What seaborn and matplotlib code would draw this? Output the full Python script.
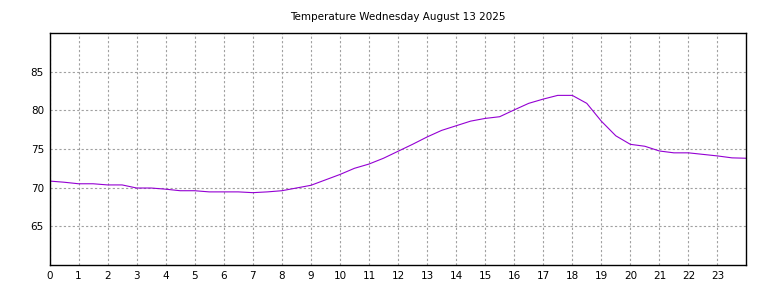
import numpy as np
import pandas as pd
import seaborn as sns
import matplotlib
matplotlib.use("Agg")
import matplotlib.pyplot as plt

# half-hourly readings
hours = [0, 0.5, 1, 1.5, 2, 2.5, 3, 3.5, 4, 4.5, 5, 5.5, 6, 6.5, 7, 7.5,
         8, 8.5, 9, 9.5, 10, 10.5, 11, 11.5, 12, 12.5, 13, 13.5, 14, 14.5,
         15, 15.5, 16, 16.5, 17, 17.5, 18, 18.5, 19, 19.5, 20, 20.5, 21,
         21.5, 22, 22.5, 23, 23.5, 24]
temps = [70.85, 70.7, 70.5, 70.5, 70.35, 70.35, 69.95, 69.95, 69.8, 69.6,
         69.6, 69.45, 69.45, 69.45, 69.35, 69.45, 69.6, 69.95, 70.3, 71.0,
         71.7, 72.5, 73.05, 73.8, 74.7, 75.6, 76.55, 77.4, 78.0, 78.6,
         78.95, 79.17, 80.05, 80.9, 81.45, 81.93, 81.93, 80.9, 78.6, 76.7,
         75.6, 75.35, 74.74, 74.5, 74.5, 74.3, 74.1, 73.85, 73.8]
xticks = list(range(24))
yticks = [65, 70, 75, 80, 85]
title = "Temperature Wednesday August 13 2025"

df = pd.DataFrame({"hour": hours, "temp": temps})

sns.set_style("white")
plt.rcParams["font.family"] = ["DejaVu Sans"]
plt.rcParams["text.color"] = "black"

fig = plt.figure(figsize=(7.68, 2.88), dpi=100)
ax = fig.add_axes([0.0645, 0.08, 0.9075, 0.8055])

sns.lineplot(data=df, x="hour", y="temp", color="#9400d3", linewidth=0.8, ax=ax)

ax.set_xlim(0, 24)
ax.set_ylim(60, 90)
ax.set_xticks(xticks)
ax.set_yticks(yticks)
ax.tick_params(labelsize=7.5, length=0, pad=4, colors="black")
ax.grid(True, color="#a0a0a0", linestyle=(0, (2, 2)), linewidth=0.8)
for s in ax.spines.values():
    s.set_color("black")
    s.set_linewidth(1)
ax.set_xlabel("")
ax.set_ylabel("")
ax.set_title(title, fontsize=7.5, pad=9, color="black")

fig.savefig("out.png", dpi=100)
